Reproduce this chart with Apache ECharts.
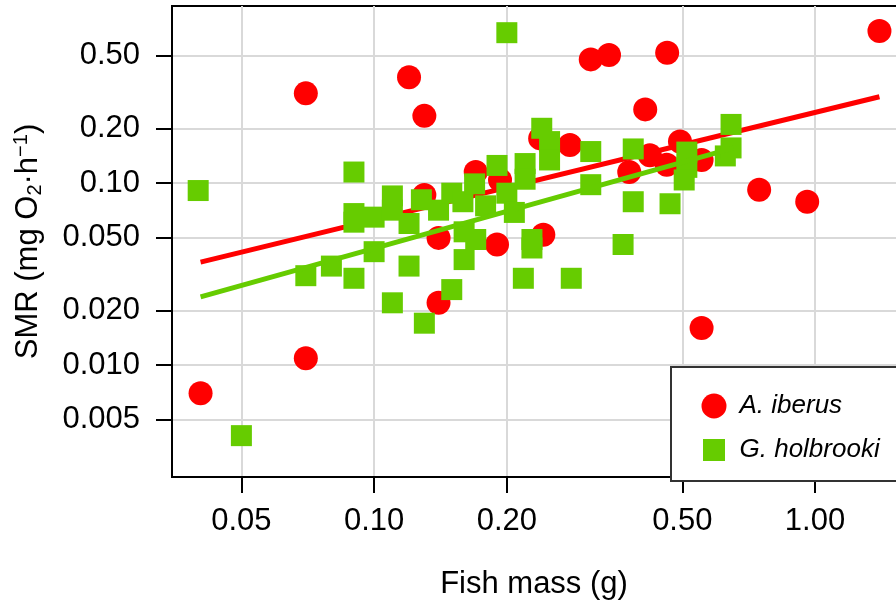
<!DOCTYPE html>
<html>
<head>
<meta charset="utf-8">
<script src="https://cdn.jsdelivr.net/npm/echarts@6/dist/echarts.min.js"></script>
<style>
  html, body { margin: 0; padding: 0; background: #fff; }
  #main { width: 896px; height: 607px; }
</style>
</head>
<body>
<div id="main"></div>
<script>
// A. iberus (red circles): fish mass (g) and SMR (mg O2/h)
const iberusMass = [0.0404, 0.070, 0.070, 0.120, 0.130, 0.130, 0.140, 0.140, 0.170, 0.193,
  0.278, 0.238, 0.190, 0.242, 0.310, 0.341, 0.462, 1.40, 0.412, 0.379,
  0.422, 0.461, 0.494, 0.553, 0.747, 0.960, 0.553];
const iberusSMR = [0.0070, 0.311, 0.0109, 0.381, 0.234, 0.086, 0.050, 0.022, 0.115, 0.104,
  0.162, 0.176, 0.046, 0.052, 0.478, 0.505, 0.520, 0.684, 0.254, 0.115,
  0.142, 0.126, 0.169, 0.134, 0.092, 0.079, 0.016];

// G. holbrooki (green squares)
const holbrookiMass = [0.0399, 0.050, 0.070, 0.080, 0.090, 0.090, 0.090, 0.090, 0.100, 0.100,
  0.110, 0.110, 0.110, 0.120, 0.120, 0.130, 0.128, 0.140, 0.150, 0.150,
  0.159, 0.160, 0.160, 0.169, 0.170, 0.179, 0.190, 0.200, 0.200, 0.208,
  0.220, 0.220, 0.218, 0.228, 0.228, 0.240, 0.250, 0.250, 0.280, 0.310,
  0.310, 0.367, 0.387, 0.387, 0.469, 0.512, 0.512, 0.505, 0.626, 0.645, 0.645];
const holbrookiSMR = [0.091, 0.0041, 0.031, 0.035, 0.115, 0.068, 0.061, 0.030, 0.065, 0.042,
  0.085, 0.071, 0.022, 0.060, 0.035, 0.017, 0.081, 0.071, 0.088, 0.026,
  0.079, 0.054, 0.038, 0.099, 0.049, 0.075, 0.125, 0.088, 0.67, 0.069,
  0.128, 0.105, 0.030, 0.049, 0.044, 0.20, 0.169, 0.134, 0.030, 0.149,
  0.098, 0.046, 0.154, 0.079, 0.077, 0.148, 0.122, 0.104, 0.141, 0.21, 0.156];

// fitted lines (end points)
const iberusFitMass = [0.0404, 1.40];
const iberusFitSMR = [0.0368, 0.298];
const holbrookiFitMass = [0.0404, 0.652];
const holbrookiFitSMR = [0.0237, 0.1555];

// axes
const xTickValues = [0.05, 0.1, 0.2, 0.5, 1.0];
const xTickLabels = ["0.05", "0.10", "0.20", "0.50", "1.00"];
const yTickValues = [0.005, 0.01, 0.02, 0.05, 0.1, 0.2, 0.5];
const yTickLabels = ["0.005", "0.010", "0.020", "0.050", "0.10", "0.20", "0.50"];
const xRange = [0.0348, 1.575];
const yRange = [0.00243, 0.939];

const lg = Math.log10;
const pairs = (xs, ys) => xs.map((x, i) => [lg(x), lg(ys[i])]);
const labelFor = (vals, labels) => (v) => {
  for (let i = 0; i < vals.length; i++) {
    if (Math.abs(lg(vals[i]) - v) < 1e-6) return labels[i];
  }
  return "";
};

const FONT = "'Liberation Sans', Arial, sans-serif";
const RED = "#ff0000";
const GREEN = "#66cc00";

var chart = echarts.init(document.getElementById("main"));
chart.setOption({
  animation: false,
  grid: {
    left: 172,
    top: 6,
    width: 730,
    height: 471,
    outerBoundsMode: "none",
    containLabel: false,
    show: true,
    borderColor: "#000",
    borderWidth: 2,
    backgroundColor: "transparent",
  },
  xAxis: {
    type: "value",
    min: lg(xRange[0]),
    max: lg(xRange[1]),
    name: "Fish mass (g)",
    nameLocation: "middle",
    nameGap: 92,
    nameTextStyle: { fontFamily: FONT, fontSize: 31, color: "#000", padding: [0, 6, 0, 0] },
    axisLine: { show: true, onZero: false, lineStyle: { color: "#000", width: 2 } },
    axisTick: {
      show: true,
      length: 16,
      customValues: xTickValues.map(lg),
      lineStyle: { color: "#000", width: 2 },
    },
    axisLabel: {
      customValues: xTickValues.map(lg),
      formatter: labelFor(xTickValues, xTickLabels),
      fontFamily: FONT,
      fontSize: 31,
      color: "#000",
      margin: 29,
    },
    splitLine: { show: true, lineStyle: { color: "#d9d9d9", width: 2 } },
  },
  yAxis: {
    type: "value",
    min: lg(yRange[0]),
    max: lg(yRange[1]),
    name: "SMR (mg O{sub|2}·h{sup|−1})",
    nameLocation: "middle",
    nameRotate: 90,
    nameGap: 127,
    nameTextStyle: {
      fontFamily: FONT,
      fontSize: 31,
      color: "#000",
      rich: {
        sub: { fontFamily: FONT, fontSize: 20, color: "#000", padding: [14, 0, 0, 0] },
        sup: { fontFamily: FONT, fontSize: 20, color: "#000", padding: [0, 0, 14, 0] },
      },
    },
    axisLine: { show: true, onZero: false, lineStyle: { color: "#000", width: 2 } },
    axisTick: {
      show: true,
      length: 16,
      customValues: yTickValues.map(lg),
      lineStyle: { color: "#000", width: 2 },
    },
    axisLabel: {
      customValues: yTickValues.map(lg),
      formatter: labelFor(yTickValues, yTickLabels),
      fontFamily: FONT,
      fontSize: 31,
      color: "#000",
      margin: 32,
    },
    splitLine: { show: true, lineStyle: { color: "#d9d9d9", width: 2 } },
  },
  legend: {
    left: 671,
    top: 367,
    orient: "vertical",
    backgroundColor: "#fff",
    borderColor: "#333",
    borderWidth: 2,
    borderRadius: 0,
    padding: [26, 60, 17, 29],
    itemGap: 17,
    itemWidth: 25,
    itemHeight: 25,
    textStyle: {
      fontFamily: FONT,
      fontSize: 26,
      fontStyle: "italic",
      color: "#000",
      padding: [0, 0, 0, 8],
    },
    data: [
      { name: "A. iberus", icon: "circle" },
      { name: "G. holbrooki", icon: "rect", itemStyle: { borderColor: "#fff", borderWidth: 3 } },
    ],
    selectedMode: false,
    z: 10,
  },
  series: [
    {
      name: "A. iberus",
      type: "scatter",
      symbol: "circle",
      symbolSize: 24,
      itemStyle: { color: RED, opacity: 1 },
      data: pairs(iberusMass, iberusSMR),
      z: 2,
    },
    {
      name: "A. iberus fit",
      type: "line",
      symbol: "none",
      lineStyle: { color: RED, width: 5 },
      data: pairs(iberusFitMass, iberusFitSMR),
      z: 3,
    },
    {
      name: "G. holbrooki",
      type: "scatter",
      symbol: "rect",
      symbolSize: 21,
      itemStyle: { color: GREEN, opacity: 1 },
      data: pairs(holbrookiMass, holbrookiSMR),
      z: 4,
    },
    {
      name: "G. holbrooki fit",
      type: "line",
      symbol: "none",
      lineStyle: { color: GREEN, width: 5 },
      data: pairs(holbrookiFitMass, holbrookiFitSMR),
      z: 5,
    },
  ],
});
</script>
</body>
</html>
